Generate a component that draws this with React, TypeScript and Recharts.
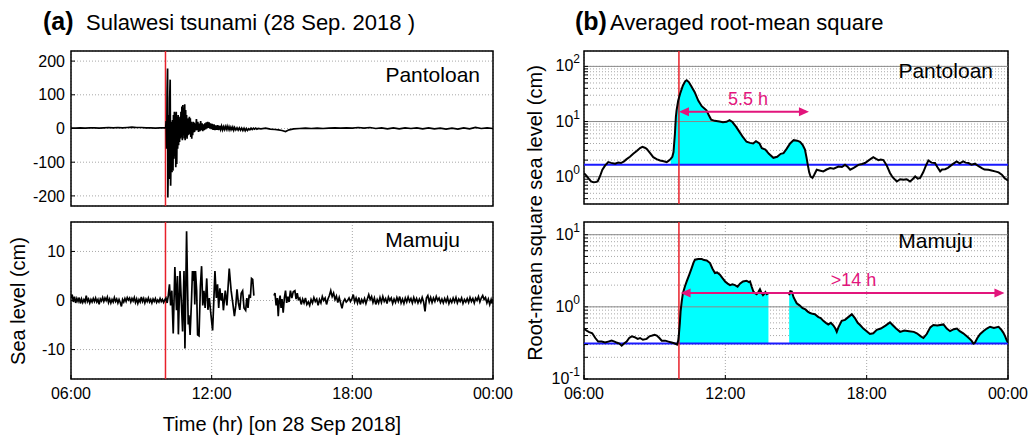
import React from 'react'
import {
  ComposedChart,
  Line,
  Area,
  XAxis,
  YAxis,
  CartesianGrid,
  ReferenceLine,
  ReferenceArea
} from 'recharts'

// time axis (hours on 28 Sep 2018, 24 = 00:00 next day)
const timeTicks = [6, 12, 18, 24]
const timeLabels = ['06:00', '12:00', '18:00', '00:00']
const quakeTime = 10.03

// panel (a) sea level, cm
const pantoloanSeaTicks = [-200, -100, 0, 100, 200]
const pantoloanSeaDomain = [-230, 230]
const mamujuSeaTicks = [-10, 0, 10]
const mamujuSeaDomain = [-16, 16]

const pantoloanSea: [number, number][] = [
  [6.0, 1], [6.2, 1], [6.4, 2], [6.6, 1], [6.8, 2], [7.0, 2], [7.2, 1], [7.4, 2], [7.6, 3], [7.8, 2],
  [8.0, 3], [8.2, 2], [8.4, 3], [8.6, 4], [8.8, 3], [9.0, 3], [9.2, 2], [9.4, 2], [9.6, 1], [9.8, 2], [10.0, 2],
  [10.04, 3], [10.06, 22], [10.08, -60], [10.1, 110], [10.12, 178], [10.13, -205], [10.15, -110], [10.17, 40],
  [10.19, -150], [10.21, 90], [10.23, 145], [10.25, -170], [10.27, -60], [10.29, 20], [10.31, -130], [10.33, 25],
  [10.35, -125], [10.37, 40], [10.39, -90], [10.41, 50], [10.43, -80], [10.45, 45], [10.47, -115], [10.49, 50],
  [10.51, -105], [10.53, 35], [10.55, -60], [10.57, 40], [10.59, -50], [10.61, 30], [10.63, -40], [10.65, 35],
  [10.67, -30], [10.69, 50], [10.71, -25], [10.73, 65], [10.75, -35], [10.77, 70], [10.79, -20], [10.81, 60],
  [10.83, -30], [10.85, 72], [10.87, -35], [10.89, 55], [10.91, -25], [10.93, 40], [10.95, -30], [10.97, 28],
  [10.99, -20], [11.01, 30], [11.03, -18], [11.05, 35], [11.07, -15], [11.09, 30], [11.11, -25], [11.13, 20],
  [11.15, -30], [11.17, 15], [11.19, -20], [11.21, 20], [11.23, -12], [11.25, 18], [11.27, -10], [11.29, 15],
  [11.32, -6], [11.35, 28], [11.38, -5], [11.41, 20], [11.44, -10], [11.47, 15], [11.5, -8], [11.53, 22],
  [11.56, -5], [11.59, 15], [11.62, -8], [11.65, 12], [11.68, -5], [11.71, 15], [11.74, -3], [11.77, 18],
  [11.8, 0], [11.83, 20], [11.86, 2], [11.89, 18], [11.92, 0], [11.95, 15], [11.98, -2],
  [12.02, 14], [12.06, -4], [12.1, 12], [12.14, -5], [12.18, 9], [12.22, -4], [12.26, 10], [12.3, -5],
  [12.34, 8], [12.38, -3], [12.42, 7], [12.46, -4], [12.5, 5], [12.54, -3], [12.58, 6], [12.62, -2],
  [12.66, 7], [12.7, -3], [12.74, 5], [12.78, -4], [12.82, 4], [12.86, -3], [12.9, 4], [12.94, -5], [12.98, 3],
  [13.03, -4], [13.08, 2], [13.13, -5], [13.18, 2], [13.23, -5], [13.28, 1], [13.33, -6], [13.38, 1],
  [13.43, -7], [13.48, 0], [13.53, -6], [13.58, -1], [13.63, -4], [13.68, 1], [13.73, -3], [13.78, 1],
  [13.83, -2], [13.88, 1], [13.93, -2], [13.98, 0],
  [14.1, -1], [14.3, 1], [14.5, -2], [14.7, -3], [14.85, -4], [15.0, -6], [15.15, -9], [15.3, -4], [15.5, -1],
  [15.75, 0], [16.0, 1], [16.25, 0], [16.5, 1], [16.75, 0], [17.0, 1], [17.25, 2], [17.5, 1], [17.75, 2],
  [18.0, 1], [18.25, 3], [18.5, 1], [18.75, 3], [19.0, 0], [19.25, 2], [19.5, -1], [19.75, 2], [20.0, -1],
  [20.25, 2], [20.5, 0], [20.75, 2], [21.0, -1], [21.25, 2], [21.5, -1], [21.75, 1], [22.0, -2], [22.25, 1],
  [22.5, -2], [22.75, 2], [23.0, -1], [23.25, 3], [23.5, 0], [23.75, 2], [24.0, 0]
]

const mamujuSea: [number, number | null][] = [
  [6.0, 0.5], [6.05, 1.2], [6.1, -0.3], [6.15, 0.8], [6.2, -0.5], [6.25, 0.4], [6.3, -0.2], [6.35, 0.6],
  [6.4, -0.6], [6.45, 0.3], [6.5, -0.4], [6.55, 0.2], [6.6, -0.3], [6.65, 1.0], [6.7, -0.2], [6.75, 0.3],
  [6.8, -0.5], [6.85, 0.2], [6.9, -0.3], [6.95, 0.4], [7.0, -0.2], [7.05, 0.5], [7.1, -0.3], [7.15, 0.2],
  [7.2, -0.8], [7.25, 0.3], [7.3, -0.1], [7.35, 0.6], [7.4, -0.2], [7.45, 0.5], [7.5, 0.0], [7.55, 0.7],
  [7.6, -0.4], [7.65, 0.3], [7.7, -0.5], [7.75, 0.2], [7.8, -0.3], [7.85, 0.6], [7.9, -0.2], [7.95, 0.3],
  [8.0, -0.5], [8.05, 0.2], [8.1, -0.4], [8.15, -1.2], [8.2, 0.2], [8.25, -0.3], [8.3, 0.4], [8.35, -0.2],
  [8.4, 0.6], [8.45, 0.1], [8.5, 0.5], [8.55, -0.3], [8.6, 0.4], [8.65, -0.1], [8.7, 0.6], [8.75, -0.4],
  [8.8, 0.3], [8.85, -0.6], [8.9, 0.2], [8.95, -0.3], [9.0, 0.7], [9.05, -0.2], [9.1, 0.4], [9.15, -0.5],
  [9.2, 0.3], [9.25, -0.2], [9.3, 0.5], [9.35, -0.3], [9.4, 0.2], [9.45, -0.5], [9.5, 0.3], [9.55, -0.2],
  [9.6, 0.4], [9.65, -0.4], [9.7, 0.1], [9.75, -0.3], [9.8, 0.4], [9.85, -0.2], [9.9, 0.2], [9.95, -0.4],
  [10.0, 0.1], [10.05, 0.5], [10.1, -0.5], [10.15, 1.0], [10.2, 3.3], [10.25, -1.0], [10.3, 2.0],
  [10.36, -6.7], [10.43, 6.8], [10.5, -2.0], [10.54, 5.0], [10.58, -6.9], [10.65, 6.0], [10.7, 0.5],
  [10.76, -6.3], [10.82, 6.0], [10.86, -9.8], [10.93, 14.1], [11.0, -4.9], [11.03, -3.0], [11.08, -7.0],
  [11.14, 0.0], [11.18, 6.0], [11.22, 4.0], [11.25, 6.0], [11.28, -0.8], [11.31, 6.0], [11.36, 2.0],
  [11.4, -7.0], [11.46, -7.2], [11.52, 3.0], [11.57, 7.0], [11.62, -1.0], [11.67, 2.0], [11.72, -1.5],
  [11.79, 4.5], [11.84, -1.9], [11.9, 0.5], [11.96, -2.5], [12.04, -6.1], [12.1, 1.0], [12.14, 6.0],
  [12.2, 0.5], [12.25, 3.3], [12.3, -1.5], [12.35, 2.5], [12.4, 0.0], [12.45, 1.5], [12.5, -2.0],
  [12.58, 2.0], [12.65, -1.0], [12.75, 6.5], [12.83, 2.0], [12.9, -0.5], [12.97, -3.2], [13.03, -1.0],
  [13.08, 2.3], [13.14, -0.5], [13.2, -1.9], [13.26, 1.5], [13.32, 2.0], [13.38, -1.5], [13.45, -2.0],
  [13.5, 0.5], [13.55, -1.5], [13.6, 1.2], [13.65, 0.5], [13.7, 4.5], [13.75, 4.3], [13.8, 1.0],
  [14.2, null],
  [14.66, 1.0], [14.7, 1.5], [14.75, -1.0], [14.8, 0.5], [14.84, -3.2], [14.88, 0.0], [14.92, 1.0],
  [14.96, -1.5], [15.0, 0.3], [15.05, -2.5], [15.1, 0.5], [15.15, 2.0], [15.2, -0.5], [15.25, 0.8],
  [15.3, -0.3], [15.36, 2.0], [15.42, 0.5], [15.48, 1.8], [15.55, 2.0], [15.6, 0.3], [15.65, 1.5],
  [15.7, 0.2], [15.76, 0.5], [15.82, -0.8], [15.88, 0.3], [15.94, -0.5], [16.0, 0.5], [16.06, -0.8],
  [16.12, -0.3], [16.18, -1.0], [16.24, 0.2], [16.3, -0.5], [16.36, 0.6], [16.42, -0.2], [16.48, 0.3],
  [16.54, -1.0], [16.6, 0.2], [16.66, -0.5], [16.72, 0.8], [16.78, 0.0], [16.84, 0.5], [16.9, -0.8],
  [16.96, 0.3], [17.02, 1.0], [17.08, 2.0], [17.14, 0.8], [17.2, 1.5], [17.26, 0.2], [17.32, 0.9],
  [17.38, -0.4], [17.44, 0.6], [17.5, -0.5], [17.56, -1.6], [17.62, -0.2], [17.68, 0.3], [17.74, -0.3],
  [17.8, 0.0], [17.86, 0.5], [17.92, -0.2], [17.98, 0.3], [18.04, 1.2], [18.1, -0.3], [18.16, 0.5],
  [18.22, -0.5], [18.28, 0.6], [18.34, -0.8], [18.4, 0.2], [18.46, -0.4], [18.52, 0.4], [18.58, -0.6],
  [18.64, 0.3], [18.7, 1.2], [18.76, 0.2], [18.82, 0.8], [18.88, -0.4], [18.94, 0.5], [19.0, -0.8],
  [19.06, 0.2], [19.12, -0.5], [19.18, 0.6], [19.24, -0.4], [19.3, 0.8], [19.36, -0.2], [19.42, 0.4],
  [19.48, -0.6], [19.54, 0.7], [19.6, 0.0], [19.66, 0.5], [19.72, -0.6], [19.78, 0.3], [19.84, -0.4],
  [19.9, 0.6], [19.96, -0.2], [20.02, 0.8], [20.08, -0.5], [20.14, 0.3], [20.2, -0.6], [20.26, 0.5],
  [20.32, -0.3], [20.38, 0.7], [20.44, -0.2], [20.5, 0.4], [20.56, -0.5], [20.62, 0.6], [20.68, -0.3],
  [20.74, 0.4], [20.8, -0.5], [20.86, 0.3], [20.92, -0.4], [20.98, 0.6], [21.04, -0.3], [21.1, -2.2],
  [21.16, 0.5], [21.22, 1.0], [21.28, -0.3], [21.34, 0.6], [21.4, -0.4], [21.46, 0.5], [21.52, -0.2],
  [21.58, 0.8], [21.64, 0.0], [21.7, 0.5], [21.76, -0.4], [21.82, 0.3], [21.88, -0.5], [21.94, 0.4],
  [22.0, -0.3], [22.06, 0.6], [22.12, -0.6], [22.18, 0.2], [22.24, -0.4], [22.3, 0.5], [22.36, -0.3],
  [22.42, 0.6], [22.48, -0.5], [22.54, 0.3], [22.6, -0.2], [22.66, 0.5], [22.72, -0.6], [22.78, 0.2],
  [22.84, -0.3], [22.9, 0.4], [22.96, -0.4], [23.02, 0.6], [23.08, -0.2], [23.14, 0.4], [23.2, -0.5],
  [23.26, 0.5], [23.32, 0.0], [23.38, 0.8], [23.44, -0.3], [23.5, 0.5], [23.56, 1.0], [23.62, 0.2],
  [23.68, 0.6], [23.74, -0.5], [23.8, 0.3], [23.86, -0.8], [23.92, 0.2], [23.96, -0.6], [24.0, 0.3]
]

// panel (b) averaged RMS, cm (log scale)
const pantoloanRmsDomain = [0.32, 190]
const pantoloanRmsTicks = [0.4, 0.5, 0.6, 0.7, 0.8, 0.9, 1, 2, 3, 4, 5, 6, 7, 8, 9, 10, 20, 30, 40, 50, 60, 70, 80, 90, 100]
const pantoloanDecades = [1, 10, 100]
const mamujuRmsDomain = [0.1, 15]
const mamujuRmsTicks = [0.1, 0.2, 0.3, 0.4, 0.5, 0.6, 0.7, 0.8, 0.9, 1, 2, 3, 4, 5, 6, 7, 8, 9, 10]
const mamujuDecades = [1, 10]

const pantoloanThreshold = 1.64
const mamujuThreshold = 0.31
const pantoloanWave = [9.68, 15.5]
const mamujuWave = [10.03, 24]
const pantoloanArrow = { from: 10.03, to: 15.55, level: 15, label: '5.5 h' }
const mamujuArrow = { from: 10.1, to: 23.85, level: 1.55, label: '>14 h' }

const pantoloanRms: [number, number][] = [
  [6.0, 1.16], [6.1, 1.05], [6.2, 0.92], [6.3, 0.82], [6.4, 0.79], [6.5, 0.8], [6.58, 0.82], [6.68, 1.02],
  [6.78, 1.34], [6.9, 1.6], [7.03, 1.84], [7.15, 1.78], [7.32, 1.72], [7.45, 1.8], [7.57, 1.77], [7.7, 1.9],
  [7.81, 2.08], [7.95, 2.3], [8.09, 2.6], [8.25, 2.95], [8.38, 3.3], [8.48, 3.47], [8.58, 3.35], [8.66, 3.2],
  [8.8, 2.7], [8.94, 2.26], [9.08, 2.08], [9.23, 1.97], [9.38, 1.9], [9.51, 1.84], [9.6, 1.95], [9.68, 2.1],
  [9.75, 2.3], [9.8, 2.8], [9.86, 6], [9.9, 12], [9.93, 16], [10.0, 24], [10.08, 32], [10.2, 45], [10.3, 54],
  [10.36, 56], [10.45, 52], [10.55, 44], [10.7, 34], [10.85, 24], [11.0, 19], [11.2, 16], [11.3, 13],
  [11.4, 10.8], [11.55, 10.3], [11.75, 10], [11.9, 9.7], [12.05, 9.9], [12.18, 10.6], [12.3, 9.8],
  [12.46, 8], [12.6, 6.5], [12.75, 5.2], [12.9, 4.3], [13.05, 4.1], [13.18, 4.0], [13.3, 4.4], [13.45, 4.0],
  [13.55, 3.3], [13.7, 3.1], [13.85, 2.6], [14.04, 2.2], [14.2, 2.3], [14.35, 2.6], [14.47, 2.67],
  [14.6, 3.2], [14.75, 4.0], [14.9, 4.6], [15.05, 4.5], [15.17, 4.3], [15.28, 3.8], [15.38, 3.1],
  [15.45, 2.2], [15.5, 1.64], [15.56, 1.2], [15.62, 1.0], [15.7, 0.95], [15.78, 1.1], [15.88, 1.34],
  [16.0, 1.3], [16.16, 1.25], [16.3, 1.35], [16.45, 1.43], [16.6, 1.4], [16.8, 1.53], [16.95, 1.5],
  [17.08, 1.64], [17.2, 1.5], [17.3, 1.34], [17.45, 1.45], [17.65, 1.64], [17.8, 1.7], [17.93, 1.77],
  [18.1, 2.0], [18.28, 2.26], [18.4, 2.1], [18.5, 2.0], [18.6, 2.05], [18.71, 2.0], [18.85, 1.6],
  [18.99, 1.17], [19.1, 0.98], [19.28, 0.82], [19.42, 0.9], [19.56, 0.88], [19.7, 0.9], [19.84, 0.82],
  [19.95, 0.9], [20.06, 1.01], [20.17, 0.92], [20.27, 0.95], [20.4, 1.2], [20.52, 1.6], [20.62, 1.97],
  [20.75, 1.8], [20.9, 1.77], [21.0, 1.5], [21.12, 1.25], [21.2, 1.35], [21.33, 1.37], [21.45, 1.45],
  [21.61, 1.64], [21.7, 1.75], [21.82, 1.89], [21.95, 1.75], [22.1, 1.89], [22.2, 1.8], [22.32, 1.77],
  [22.45, 1.65], [22.6, 1.72], [22.75, 1.55], [22.89, 1.43], [23.0, 1.35], [23.17, 1.34], [23.3, 1.3],
  [23.45, 1.25], [23.6, 1.2], [23.74, 1.09], [23.85, 0.95], [23.95, 0.88], [24.0, 0.85]
]

const mamujuRms: [number, number | null][] = [
  [6.0, 0.5], [6.1, 0.47], [6.2, 0.45], [6.35, 0.43], [6.48, 0.37], [6.6, 0.33], [6.75, 0.33], [6.89, 0.32],
  [7.03, 0.33], [7.17, 0.34], [7.3, 0.33], [7.38, 0.32], [7.5, 0.31], [7.6, 0.29], [7.7, 0.31], [7.81, 0.33],
  [7.92, 0.37], [8.03, 0.39], [8.15, 0.38], [8.28, 0.36], [8.38, 0.37], [8.5, 0.35], [8.66, 0.36],
  [8.78, 0.39], [8.9, 0.4], [9.0, 0.41], [9.09, 0.4], [9.2, 0.37], [9.3, 0.34], [9.45, 0.34], [9.58, 0.33],
  [9.72, 0.32], [9.86, 0.31], [9.95, 0.3], [10.0, 0.34], [10.03, 0.42], [10.07, 0.6], [10.1, 0.86],
  [10.15, 1.2], [10.2, 1.55], [10.28, 1.9], [10.36, 2.25], [10.47, 2.8], [10.57, 3.44], [10.65, 4.1],
  [10.71, 4.5], [10.85, 4.6], [11.0, 4.6], [11.1, 4.45], [11.21, 4.4], [11.35, 4.05], [11.45, 3.4],
  [11.56, 2.94], [11.65, 3.0], [11.77, 2.8], [11.88, 2.5], [11.99, 2.25], [12.1, 2.1], [12.2, 2.0],
  [12.3, 2.05], [12.41, 2.0], [12.52, 1.9], [12.62, 2.1], [12.75, 2.25], [12.9, 2.3], [13.0, 2.2],
  [13.05, 2.25], [13.12, 1.9], [13.19, 1.63], [13.26, 1.55], [13.33, 1.5], [13.4, 1.6], [13.47, 1.75],
  [13.54, 1.55], [13.6, 1.45], [13.66, 1.52], [13.7, 1.6], [13.76, 1.5], [13.83, 1.55],
  [14.2, null],
  [14.71, 1.45], [14.76, 1.65], [14.82, 1.63], [14.9, 1.35], [15.03, 1.12], [15.15, 1.05], [15.28, 0.96],
  [15.4, 0.92], [15.5, 0.86], [15.6, 0.82], [15.7, 0.8], [15.8, 0.79], [15.95, 0.72], [16.05, 0.7],
  [16.16, 0.64], [16.27, 0.6], [16.37, 0.57], [16.48, 0.6], [16.59, 0.55], [16.67, 0.5], [16.73, 0.45],
  [16.8, 0.52], [16.94, 0.64], [17.08, 0.66], [17.22, 0.72], [17.37, 0.79], [17.5, 0.7], [17.62, 0.6],
  [17.72, 0.56], [17.86, 0.5], [18.0, 0.46], [18.14, 0.42], [18.28, 0.43], [18.43, 0.48], [18.6, 0.5],
  [18.8, 0.55], [18.99, 0.61], [19.1, 0.56], [19.25, 0.5], [19.42, 0.45], [19.6, 0.47], [19.8, 0.46],
  [20.0, 0.45], [20.13, 0.43], [20.3, 0.39], [20.41, 0.37], [20.55, 0.42], [20.7, 0.52], [20.83, 0.56],
  [21.0, 0.55], [21.26, 0.57], [21.4, 0.5], [21.54, 0.46], [21.7, 0.49], [21.83, 0.5], [21.95, 0.46],
  [22.1, 0.43], [22.3, 0.38], [22.45, 0.34], [22.53, 0.31], [22.6, 0.32], [22.7, 0.37], [22.82, 0.42],
  [22.95, 0.46], [23.1, 0.5], [23.24, 0.53], [23.4, 0.51], [23.6, 0.53], [23.72, 0.48], [23.8, 0.44],
  [23.88, 0.39], [23.95, 0.34], [24.0, 0.32]
]

const FONT = '"Liberation Sans", Arial, Helvetica, sans-serif'
const RED = '#e8202a'
const PINK = '#e2157c'
const BLUE = '#1a1aff'
const CYAN = '#00ffff'

const toRows = (pts: [number, number | null][]) => pts.map(([t, v]) => ({ t, v }))

const toRmsRows = (pts: [number, number | null][], threshold: number, wave: number[]) =>
  pts.map(([t, v]) => ({
    t,
    v,
    band: v != null && t >= wave[0] && t <= wave[1] ? [threshold, v] : null
  }))

const timeFmt = (v: number) => timeLabels[timeTicks.indexOf(v)] ?? ''

const LogTick = (props: any) => {
  const { x, y, payload } = props
  const e = Math.log10(payload.value)
  if (Math.abs(e - Math.round(e)) > 1e-6) return <g />
  return (
    <text x={x} y={y + 5} textAnchor="end" fontSize={16} fill="#000" fontFamily={FONT}>
      10<tspan dy={-8} fontSize={12}>{Math.round(e)}</tspan>
    </text>
  )
}

const arrowShape = (label: string, dx: number) => (p: any) => {
  const { x1, y1, x2 } = p
  const y = y1
  return (
    <g>
      <line x1={x1 + 3} y1={y} x2={x2 - 3} y2={y} stroke={PINK} strokeWidth={2} />
      <polygon points={`${x1},${y} ${x1 + 10},${y - 4.5} ${x1 + 10},${y + 4.5}`} fill={PINK} />
      <polygon points={`${x2},${y} ${x2 - 10},${y - 4.5} ${x2 - 10},${y + 4.5}`} fill={PINK} />
      <text x={(x1 + x2) / 2 + dx} y={y - 7} textAnchor="middle" fontSize={18} fill={PINK} fontFamily={FONT}>
        {label}
      </text>
    </g>
  )
}

interface SeaProps {
  rows: { t: number; v: number | null }[]
  domain: number[]
  ticks: number[]
  top: number
  height: number
  marginTop: number
  marginBottom: number
  showTime: boolean
}

const SeaPanel: React.FC<SeaProps> = ({ rows, domain, ticks, top, height, marginTop, marginBottom, showTime }) => (
  <div style={{ position: 'absolute', left: 0, top }}>
    <ComposedChart width={540} height={height} margin={{ top: marginTop, right: 47, bottom: marginBottom, left: 0 }}>
      <CartesianGrid stroke="#a8a8a8" strokeDasharray="1 2" />
      <XAxis
        dataKey="t"
        type="number"
        domain={[6, 24]}
        ticks={timeTicks}
        allowDataOverflow
        tickFormatter={timeFmt}
        tick={showTime ? { fontSize: 16, fill: '#000' } : false}
        height={showTime ? 30 : 0}
        tickSize={-4}
        tickMargin={13}
        axisLine={false}
        tickLine={{ stroke: '#000' }}
      />
      <YAxis
        type="number"
        domain={domain}
        ticks={ticks}
        interval={0}
        allowDataOverflow
        width={71}
        tick={{ fontSize: 16, fill: '#000' }}
        tickSize={-4}
        tickMargin={10}
        axisLine={false}
        tickLine={{ stroke: '#000' }}
      />
      <ReferenceLine x={quakeTime} stroke={RED} strokeWidth={1.5} />
      <Line data={rows} dataKey="v" stroke="#000" strokeWidth={1.7} dot={false} isAnimationActive={false} />
      <ReferenceArea x1={6} x2={24} y1={domain[0]} y2={domain[1]} fill="none" fillOpacity={0} stroke="#000" strokeWidth={1.5} />
    </ComposedChart>
  </div>
)

interface RmsProps {
  rows: { t: number; v: number | null; band: number[] | null }[]
  domain: number[]
  ticks: number[]
  decades: number[]
  threshold: number
  arrow: { from: number; to: number; level: number; label: string }
  labelDx: number
  top: number
  height: number
  marginTop: number
  marginBottom: number
  showTime: boolean
}

const RmsPanel: React.FC<RmsProps> = ({ rows, domain, ticks, decades, threshold, arrow, labelDx, top, height, marginTop, marginBottom, showTime }) => (
  <div style={{ position: 'absolute', left: 513, top }}>
    <ComposedChart width={540} height={height} margin={{ top: marginTop, right: 45, bottom: marginBottom, left: 0 }}>
      <CartesianGrid stroke="#a8a8a8" strokeDasharray="1 2" />
      <XAxis
        dataKey="t"
        type="number"
        domain={[6, 24]}
        ticks={timeTicks}
        allowDataOverflow
        tickFormatter={timeFmt}
        tick={showTime ? { fontSize: 16, fill: '#000' } : false}
        height={showTime ? 30 : 0}
        tickSize={-4}
        tickMargin={13}
        axisLine={false}
        tickLine={{ stroke: '#000' }}
      />
      <YAxis
        type="number"
        scale="log"
        domain={domain}
        ticks={ticks}
        interval={0}
        allowDataOverflow
        width={71}
        tick={<LogTick />}
        tickSize={-4}
        tickMargin={8}
        axisLine={false}
        tickLine={{ stroke: '#000' }}
      />
      {decades.map((d) => (
        <ReferenceLine key={d} y={d} stroke="#8a8a8a" strokeWidth={1} />
      ))}
      <Area data={rows} dataKey="band" stroke="none" fill={CYAN} fillOpacity={1} isAnimationActive={false} />
      <ReferenceLine y={threshold} stroke={BLUE} strokeWidth={2} />
      <ReferenceLine x={quakeTime} stroke={RED} strokeWidth={1.5} />
      <Line data={rows} dataKey="v" stroke="#000" strokeWidth={2} dot={false} isAnimationActive={false} />
      <ReferenceLine
        segment={[{ x: arrow.from, y: arrow.level }, { x: arrow.to, y: arrow.level }]}
        shape={arrowShape(arrow.label, labelDx)}
      />
      <ReferenceArea x1={6} x2={24} y1={domain[0]} y2={domain[1]} fill="none" fillOpacity={0} stroke="#000" strokeWidth={1.5} />
    </ComposedChart>
  </div>
)

const App: React.FC = () => {
  return (
    <div style={{ position: 'absolute', left: 0, top: 0, width: 1034, height: 440, background: '#fff', fontFamily: FONT, overflow: 'hidden' }}>
      <SeaPanel
        rows={toRows(pantoloanSea)}
        domain={pantoloanSeaDomain}
        ticks={pantoloanSeaTicks}
        top={0}
        height={215}
        marginTop={51}
        marginBottom={9}
        showTime={false}
      />
      <SeaPanel
        rows={toRows(mamujuSea)}
        domain={mamujuSeaDomain}
        ticks={mamujuSeaTicks}
        top={215}
        height={194}
        marginTop={7}
        marginBottom={0}
        showTime
      />
      <RmsPanel
        rows={toRmsRows(pantoloanRms, pantoloanThreshold, pantoloanWave)}
        domain={pantoloanRmsDomain}
        ticks={pantoloanRmsTicks}
        decades={pantoloanDecades}
        threshold={pantoloanThreshold}
        arrow={pantoloanArrow}
        labelDx={4}
        top={0}
        height={215}
        marginTop={51}
        marginBottom={11}
        showTime={false}
      />
      <RmsPanel
        rows={toRmsRows(mamujuRms, mamujuThreshold, mamujuWave)}
        domain={mamujuRmsDomain}
        ticks={mamujuRmsTicks}
        decades={mamujuDecades}
        threshold={mamujuThreshold}
        arrow={mamujuArrow}
        labelDx={11}
        top={215}
        height={194}
        marginTop={7}
        marginBottom={0}
        showTime
      />
      <svg width={1034} height={440} style={{ position: 'absolute', left: 0, top: 0, pointerEvents: 'none' }} fontFamily={FONT}>
        <text x={43} y={30} fontSize={25} fontWeight="bold">(a)</text>
        <text x={86} y={30} fontSize={22}>Sulawesi tsunami (28 Sep. 2018 )</text>
        <text x={575} y={30} fontSize={25} fontWeight="bold">(b)</text>
        <text x={610} y={30} fontSize={22}>Averaged root-mean square</text>
        <text x={480} y={82} fontSize={21} textAnchor="end">Pantoloan</text>
        <text x={460} y={247} fontSize={21} textAnchor="end">Mamuju</text>
        <text x={993} y={78} fontSize={21} textAnchor="end">Pantoloan</text>
        <text x={973} y={248} fontSize={21} textAnchor="end">Mamuju</text>
        <text transform="translate(25,301) rotate(-90)" fontSize={20} textAnchor="middle">Sea level (cm)</text>
        <text transform="translate(542,213) rotate(-90)" fontSize={20} textAnchor="middle">Root-mean square sea level (cm)</text>
        <text x={282} y={431} fontSize={20} textAnchor="middle">Time (hr) [on 28 Sep 2018]</text>
      </svg>
    </div>
  )
}

export default App
